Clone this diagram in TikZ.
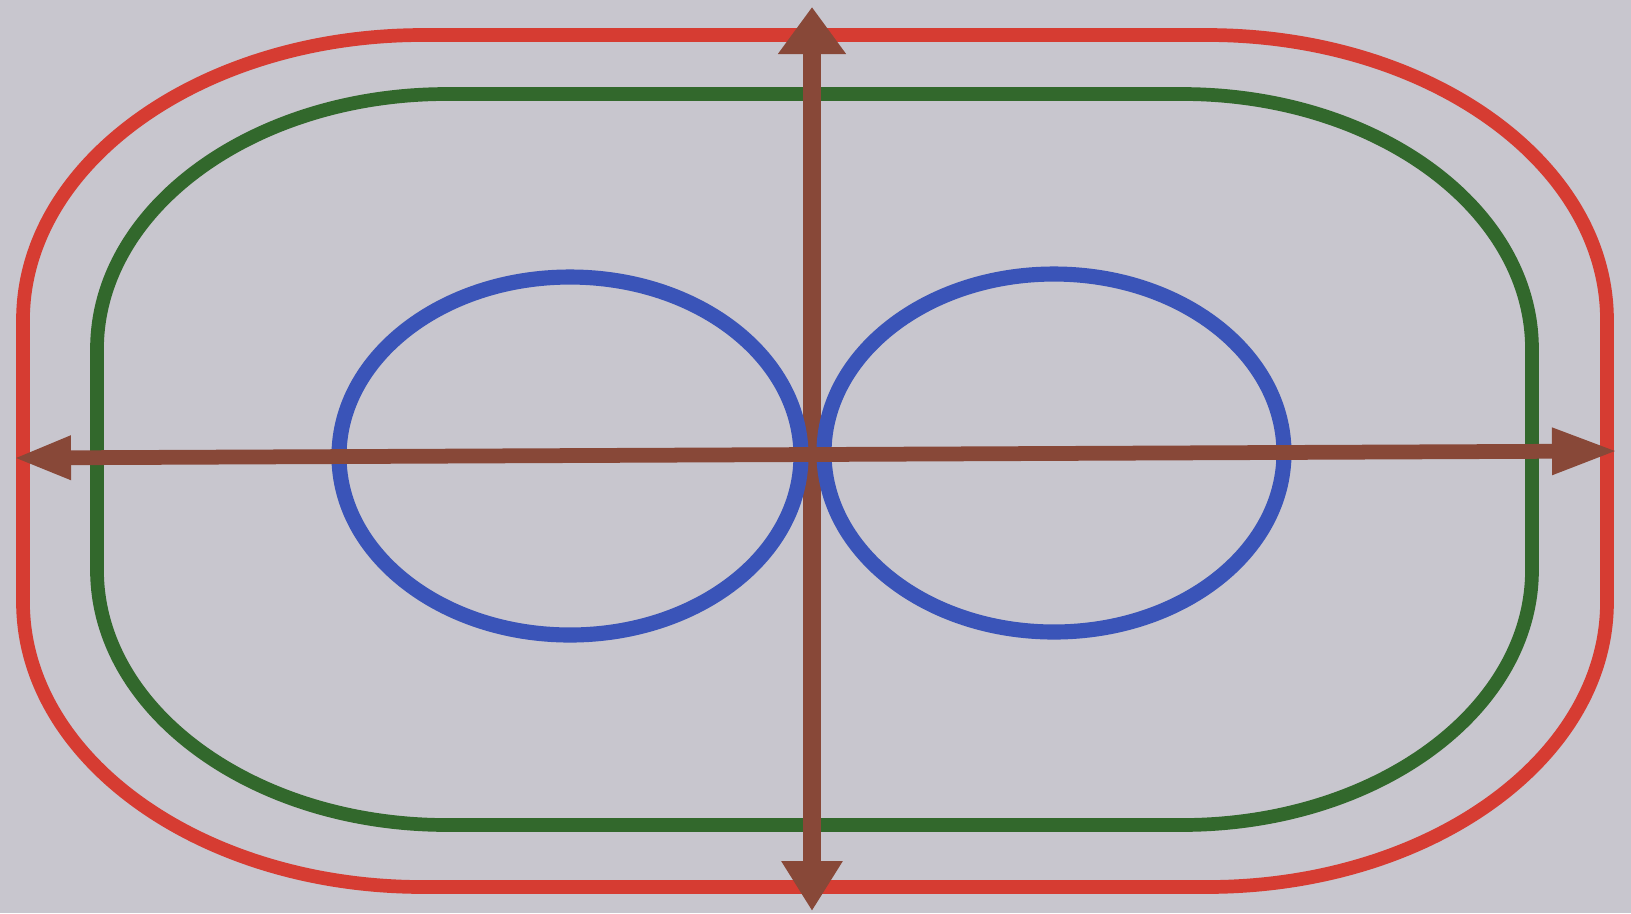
\documentclass[tikz,border=0pt]{standalone}
\usetikzlibrary{arrows.meta}
\definecolor{paper}{RGB}{200,198,206}
\definecolor{trackred}{RGB}{214,60,50}
\definecolor{trackgreen}{RGB}{50,104,44}
\definecolor{ringblue}{RGB}{58,84,184}
\definecolor{axisbrown}{RGB}{136,72,56}

\begin{document}
\begin{tikzpicture}[x=0.1mm, y=-0.1mm,
    track/.style={line width=3.9pt, line join=round},
    ring/.style={draw=ringblue, line width=4.3pt},
    axisline/.style={draw=axisbrown}]
    % Paper
    \fill[paper] (0,0) rectangle (1631,913);
    \useasboundingbox (0,0) rectangle (1631,913);

    % Outer track
    \draw[track, trackred] (23,320) arc[start angle=180, end angle=270, x radius=400, y radius=285]
        -- (1207,35) arc[start angle=270, end angle=360, x radius=400, y radius=285]
        -- (1607,602) arc[start angle=0, end angle=90, x radius=400, y radius=285]
        -- (423,887) arc[start angle=90, end angle=180, x radius=400, y radius=285]
        -- cycle;

    % Inner track
    \draw[track, trackgreen] (97,349) arc[start angle=180, end angle=270, x radius=350, y radius=255]
        -- (1182,94) arc[start angle=270, end angle=360, x radius=350, y radius=255]
        -- (1532,570) arc[start angle=0, end angle=90, x radius=350, y radius=255]
        -- (447,825) arc[start angle=90, end angle=180, x radius=350, y radius=255]
        -- cycle;

    % Axis ends
    \coordinate (top) at (812,7);
    \coordinate (bottom) at (812,911);
    \coordinate (left) at (13,458);
    \coordinate (right) at (1618,451);

    % Vertical axis
    \draw[axisline, line width=5.4pt, {Triangle[length=4.7mm, width=6.5mm]}-{Triangle[length=5mm, width=5.8mm]}] (top) -- (bottom);

    % Rings
    \draw[ring] (570,456) ellipse[x radius=231, y radius=179];
    \draw[ring] (1054,453) ellipse[x radius=230, y radius=179];

    % Horizontal axis
    \draw[axisline, line width=4.2pt, {Triangle[length=5.8mm, width=4mm]}-{Triangle[length=6.6mm, width=4.3mm]}] (left) -- (right);
\end{tikzpicture}
\end{document}
